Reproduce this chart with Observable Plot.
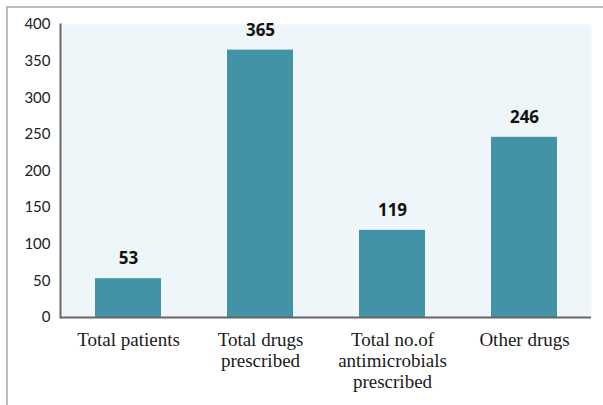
<!DOCTYPE html>
<html>
<head>
<meta charset="utf-8">
<script src="https://cdn.jsdelivr.net/npm/d3@7"></script>
<script src="https://cdn.jsdelivr.net/npm/@observablehq/plot@0.6"></script>
<style>
  html, body { margin: 0; padding: 0; background: #fff; }
  #wrap { position: relative; width: 603px; height: 405px; overflow: hidden; }
  #border { position: absolute; left: 6px; top: 6px; right: -10px; bottom: -10px;
            border-left: 2px solid #bdbdbd; border-top: 2px solid #bdbdbd; pointer-events: none; }
  #chart { position: absolute; left: 0; top: 0; }
</style>
</head>
<body>
<div id="wrap"><div id="chart"></div><div id="border"></div></div>
<script>
const categories = ["Total patients", "Total drugs prescribed", "Total no.of antimicrobials prescribed", "Other drugs"];
const tickLabels = ["Total patients", "Total drugs\nprescribed", "Total no.of\nantimicrobials\nprescribed", "Other drugs"];
const values = [53, 365, 119, 246];
const yTicks = [0, 50, 100, 150, 200, 250, 300, 350, 400];

const data = categories.map((c, i) => ({category: c, value: values[i]}));
const labelOf = new Map(categories.map((c, i) => [c, tickLabels[i]]));

const chart = Plot.plot({
  width: 603,
  height: 405,
  marginLeft: 60,
  marginRight: 12,
  marginTop: 24,
  marginBottom: 88,
  style: {background: "transparent"},
  x: {domain: categories, paddingInner: 0.5, paddingOuter: 0.25, label: null},
  y: {domain: [0, 400], label: null},
  marks: [
    Plot.frame({fill: "#eef6fa", stroke: "none"}),
    Plot.barY(data, {x: "category", y: "value", fill: "#4393a8"}),
    Plot.text(data, {x: "category", y: "value", text: d => String(d.value), dy: -20,
      fontSize: 17, fontWeight: "bold", fontFamily: "Open Sans", fill: "#111"}),
    Plot.axisY({ticks: yTicks, tickSize: 0, tickPadding: 10, fontSize: 15,
      fontFamily: "Lato", fill: "#222", label: null}),
    Plot.axisX({tickSize: 0, tickPadding: 14, fontSize: 19, fontFamily: "Liberation Serif",
      fill: "#1a1a1a", lineHeight: 1.1, tickFormat: d => labelOf.get(d), label: null}),
    Plot.ruleY([0], {stroke: "#666", strokeWidth: 2}),
    Plot.frame({anchor: "left", stroke: "#666", strokeWidth: 2})
  ]
});
document.getElementById("chart").appendChild(chart);
</script>
</body>
</html>
